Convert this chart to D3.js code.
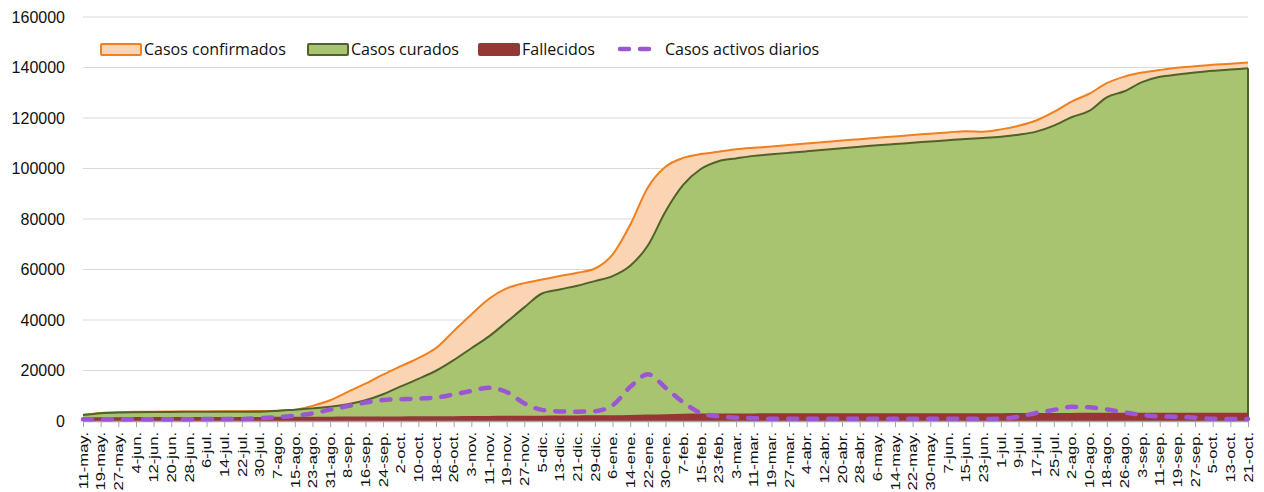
<!DOCTYPE html>
<html>
<head>
<meta charset="utf-8">
<script src="https://cdn.jsdelivr.net/npm/d3@7"></script>
<style>
  body { margin: 0; background: #fff; }
  svg { display: block; font-family: "Open Sans", sans-serif; }
</style>
</head>
<body>
<div id="chart"></div>
<script>
var width = 1264;
var height = 492;

var margin = { top: 17, right: 16, bottom: 71, left: 83 };
var chartWidth = width - margin.left - margin.right;
var chartHeight = height - margin.top - margin.bottom;

// x labels, every 8 days from 11 May 2020 to 21 Oct 2021
var fechas = ['11-may.', '19-may.', '27-may.', '4-jun.', '12-jun.', '20-jun.', '28-jun.', '6-jul.', '14-jul.', '22-jul.',
  '30-jul.', '7-ago.', '15-ago.', '23-ago.', '31-ago.', '8-sep.', '16-sep.', '24-sep.', '2-oct.', '10-oct.',
  '18-oct.', '26-oct.', '3-nov.', '11-nov.', '19-nov.', '27-nov.', '5-dic.', '13-dic.', '21-dic.', '29-dic.',
  '6-ene.', '14-ene.', '22-ene.', '30-ene.', '7-feb.', '15-feb.', '23-feb.', '3-mar.', '11-mar.', '19-mar.',
  '27-mar.', '4-abr.', '12-abr.', '20-abr.', '28-abr.', '6-may.', '14-may.', '22-may.', '30-may.', '7-jun.',
  '15-jun.', '23-jun.', '1-jul.', '9-jul.', '17-jul.', '25-jul.', '2-ago.', '10-ago.', '18-ago.', '26-ago.',
  '3-sep.', '11-sep.', '19-sep.', '27-sep.', '5-oct.', '13-oct.', '21-oct.'];

var confirmados = [2500, 3200, 3500, 3650, 3700, 3750, 3800, 3800, 3850, 3900,
  3950, 4100, 4400, 6000, 8200, 11500, 14800, 18400, 21700, 24900,
  28900, 35600, 42200, 48400, 52500, 54600, 56000, 57400, 58700, 60400,
  65900, 77700, 92500, 100700, 104200, 105700, 106600, 107600, 108200, 108700,
  109300, 109900, 110500, 111100, 111600, 112200, 112700, 113300, 113800, 114300,
  114800, 114600, 115500, 116900, 119000, 122400, 126500, 129600, 133800, 136400,
  138000, 139000, 139900, 140500, 141100, 141500, 142000];

var curados = [2400, 3100, 3400, 3500, 3550, 3600, 3650, 3650, 3700, 3700,
  3700, 4000, 4500, 5000, 5600, 6600, 8200, 10600, 13700, 16700,
  19900, 24100, 28800, 33500, 39200, 45000, 50500, 52100, 53600, 55400,
  57400, 61500, 69500, 83000, 93500, 99800, 102900, 104000, 105000, 105600,
  106200, 106800, 107400, 108000, 108600, 109200, 109700, 110200, 110700, 111200,
  111700, 112100, 112600, 113400, 114600, 117000, 120300, 122800, 128200, 130600,
  134200, 136300, 137200, 138000, 138700, 139200, 139700];

var fallecidos = [1500, 1500, 1520, 1540, 1550, 1560, 1570, 1580, 1590, 1600,
  1620, 1650, 1680, 1700, 1720, 1750, 1770, 1800, 1820, 1850,
  1880, 1900, 1950, 2000, 2050, 2080, 2100, 2150, 2200, 2250,
  2300, 2400, 2550, 2700, 2850, 2950, 3000, 3000, 3020, 3030,
  3040, 3050, 3050, 3060, 3060, 3070, 3070, 3080, 3080, 3090,
  3100, 3100, 3110, 3120, 3150, 3180, 3200, 3220, 3240, 3250,
  3260, 3270, 3280, 3290, 3300, 3300, 3300];

var activos = [700, 700, 700, 700, 700, 700, 700, 750, 750, 800,
  1100, 1500, 2100, 3000, 4500, 5900, 7300, 8300, 8600, 8900,
  9300, 10500, 11900, 13200, 11500, 7000, 4400, 3800, 3700, 3900,
  6200, 13500, 18500, 13200, 7400, 3200, 1800, 1300, 1100, 900,
  900, 900, 900, 900, 900, 900, 900, 900, 900, 900,
  900, 800, 900, 1700, 3200, 4400, 5600, 5400, 4600, 3400,
  2400, 1800, 1700, 1300, 900, 800, 800];

var yTicks = [0, 20000, 40000, 60000, 80000, 100000, 120000, 140000, 160000];

var svg = d3.select('#chart').append('svg')
    .attr('width', width)
    .attr('height', height)
    .append('g')
    .attr('transform', `translate(${margin.left}, ${margin.top})`);

var xScale = d3.scalePoint()
    .domain(fechas)
    .range([0, chartWidth]);

var yScale = d3.scaleLinear()
    .domain([0, 160000])
    .range([chartHeight, 0]);

// gridlines + y labels
svg.append('g')
    .selectAll('line')
    .data(yTicks.slice(1))
    .enter()
    .append('line')
    .attr('x1', 0)
    .attr('x2', chartWidth)
    .attr('y1', d => yScale(d))
    .attr('y2', d => yScale(d))
    .attr('stroke', '#d9d9d9')
    .attr('stroke-width', 1);

var yAxis = d3.axisLeft(yScale).tickValues(yTicks).tickSize(0).tickPadding(18).tickFormat(d3.format('d'));
var yAxis_g = svg.append('g').call(yAxis);
yAxis_g.select('.domain').remove();
yAxis_g.selectAll('text')
    .style('font-size', '16px')
    .attr('fill', '#111');

function serie(arr) {
    return fechas.map((f, i) => ({ f: f, v: arr[i] }));
}

function drawArea(arr, fill, stroke) {
    var area = d3.area()
        .x(d => xScale(d.f))
        .y0(chartHeight)
        .y1(d => yScale(d.v))
        .curve(d3.curveMonotoneX);
    var line = d3.line()
        .x(d => xScale(d.f))
        .y(d => yScale(d.v))
        .curve(d3.curveMonotoneX);
    svg.append('path')
        .datum(serie(arr))
        .attr('d', area)
        .attr('fill', fill);
    if (stroke) {
        svg.append('path')
            .datum(serie(arr))
            .attr('d', line)
            .attr('fill', 'none')
            .attr('stroke', stroke)
            .attr('stroke-width', 2);
    }
}

drawArea(confirmados, '#fbd4b4', '#f07f1f');
drawArea(curados, '#a9c470', '#4f6228');
// right edge of cured area
svg.append('line')
    .attr('x1', xScale(fechas[fechas.length - 1]))
    .attr('x2', xScale(fechas[fechas.length - 1]))
    .attr('y1', yScale(curados[curados.length - 1]))
    .attr('y2', chartHeight)
    .attr('stroke', '#4f6228')
    .attr('stroke-width', 2);
drawArea(fallecidos, '#953735', null);

// x axis
var xAxis = d3.axisBottom(xScale).tickSize(6).tickSizeOuter(0);
var xAxis_g = svg.append('g')
    .attr('transform', `translate(0, ${chartHeight})`)
    .call(xAxis);
xAxis_g.select('.domain').attr('stroke', '#a6a6a6').attr('stroke-width', 1.5);
xAxis_g.selectAll('.tick line').attr('stroke', '#a6a6a6');
xAxis_g.selectAll('text')
    .style('font-size', '12px')
    .attr('fill', '#111')
    .attr('text-anchor', 'end')
    .attr('dx', 0)
    .attr('dy', '0.35em')
    .attr('transform', 'translate(0, 11) rotate(-90) scale(1.38, 1)')
    .attr('x', 0)
    .attr('y', 0);

// active cases dashed line
var activeLine = d3.line()
    .x(d => xScale(d.f))
    .y(d => yScale(d.v))
    .curve(d3.curveMonotoneX);
svg.append('path')
    .datum(serie(activos))
    .attr('d', activeLine)
    .attr('fill', 'none')
    .attr('stroke', '#9b57d3')
    .attr('stroke-width', 4.5)
    .attr('stroke-linecap', 'round')
    .attr('stroke-dasharray', '9,11');

// legend
var legend = d3.select('svg').append('g').attr('transform', 'translate(0, 49)');
var items = [
    { name: 'Casos confirmados', x: 100, fill: '#fbd4b4', stroke: '#f07f1f' },
    { name: 'Casos curados', x: 307, fill: '#a9c470', stroke: '#4f6228' },
    { name: 'Fallecidos', x: 478, fill: '#953735', stroke: '#953735' }
];
items.forEach(function (it) {
    legend.append('rect')
        .attr('x', it.x + 1)
        .attr('y', -5)
        .attr('width', 40)
        .attr('height', 11)
        .attr('rx', 1)
        .attr('fill', it.fill)
        .attr('stroke', it.stroke)
        .attr('stroke-width', 2);
    legend.append('text')
        .attr('x', it.x + 44)
        .attr('y', 0)
        .attr('dy', '0.35em')
        .style('font-size', '16px')
        .attr('fill', '#111')
        .text(it.name);
});
legend.append('line')
    .attr('x1', 620)
    .attr('x2', 660)
    .attr('y1', 0)
    .attr('y2', 0)
    .attr('stroke', '#9b57d3')
    .attr('stroke-width', 4.5)
    .attr('stroke-linecap', 'round')
    .attr('stroke-dasharray', '9,11');
legend.append('text')
    .attr('x', 665)
    .attr('y', 0)
    .attr('dy', '0.35em')
    .style('font-size', '16px')
    .attr('fill', '#111')
    .text('Casos activos diarios');
</script>
</body>
</html>
